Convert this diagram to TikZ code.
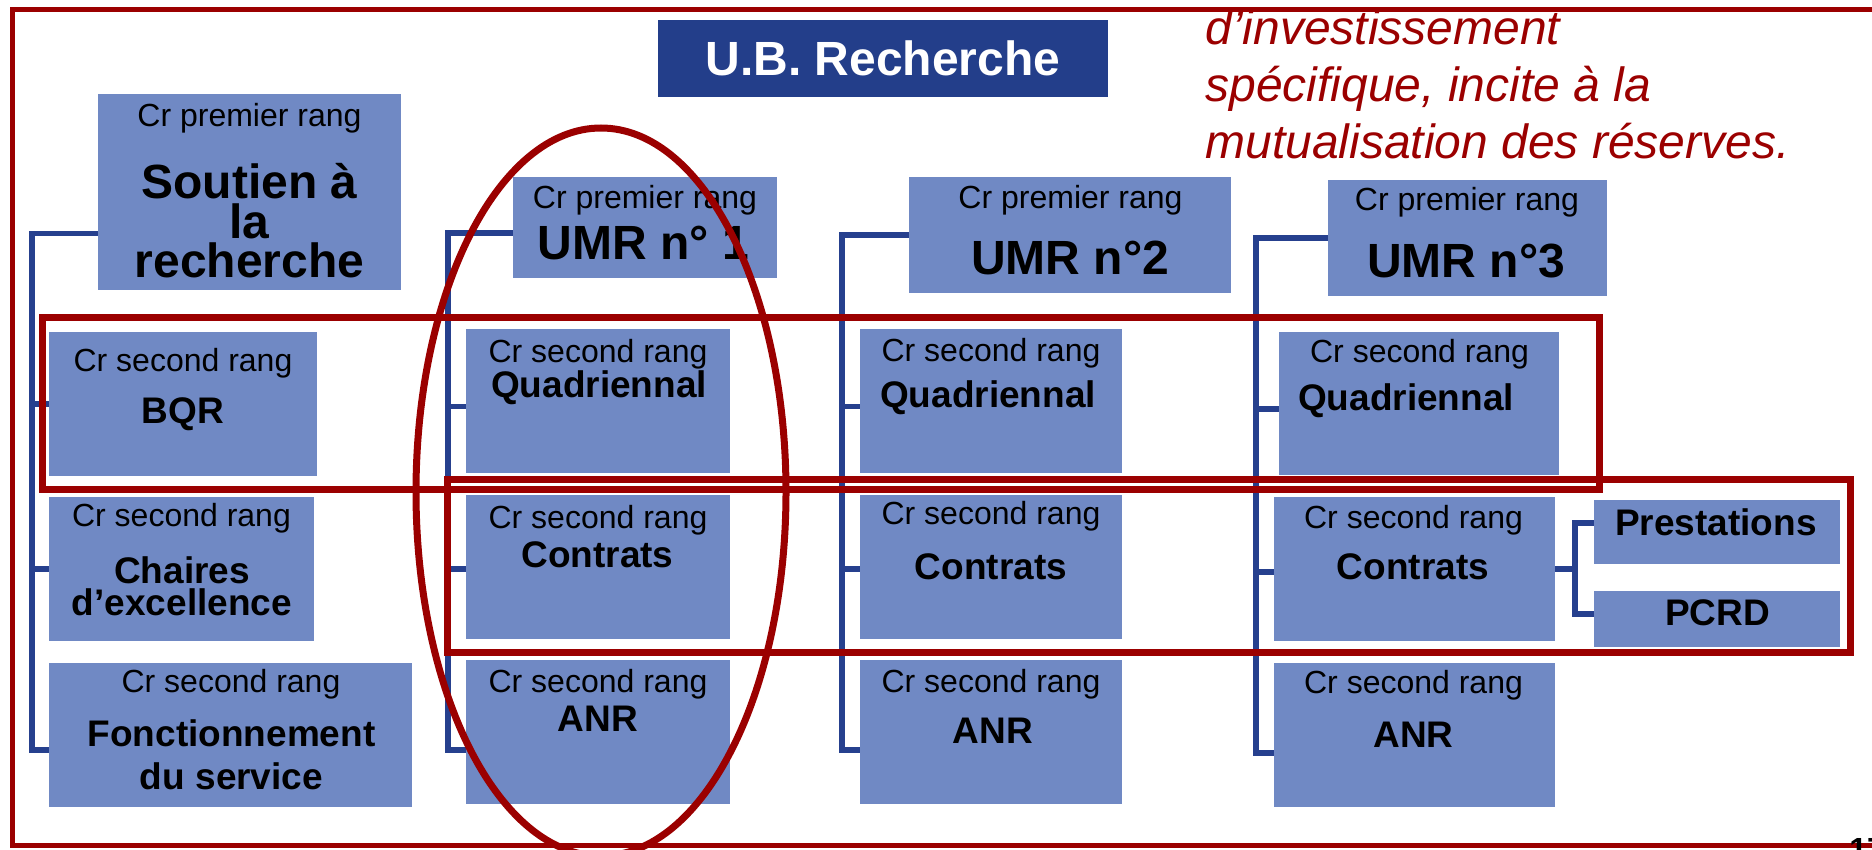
\documentclass[tikz,border=0pt]{standalone}
\usepackage{fontspec}
\setmainfont{Liberation Sans}
\definecolor{bleuclair}{RGB}{112,137,196}
\definecolor{bleufonce}{RGB}{35,62,138}
\definecolor{bleutrait}{RGB}{38,64,142}
\definecolor{rouge}{RGB}{155,0,0}
\begin{document}
\begin{tikzpicture}[x=0.5pt,y=-0.5pt,
		crbox/.style={fill=bleuclair,inner sep=0pt},
		petit/.style={font=\fontsize{16}{18}\selectfont,inner sep=0pt},
		gras/.style={font=\fontsize{18.5}{16}\selectfont\bfseries,align=center,inner sep=0pt},
		grand/.style={font=\fontsize{24}{19.75}\selectfont\bfseries,align=center,inner sep=0pt},
		lien/.style={draw=bleutrait,line width=2.75pt},
		cadre/.style={draw=rouge,line width=3.5pt}]
		\useasboundingbox (0,0) rectangle (1872,850);
		\clip (0,0) rectangle (1872,850);

		\node[crbox,fill=bleufonce,minimum width=225pt,minimum height=38.5pt,text=white,font=\fontsize{24}{28}\selectfont\bfseries] (ub) at (883,58.5) {U.B. Recherche};

		% soutien a la recherche
		\node[crbox,minimum width=151.5pt,minimum height=98pt] (soutien) at (249.5,192) {};
		\node[petit] (soutiena) at (249.5,118) {Cr premier rang};
		\node[grand] (soutienb) at (249.5,221) {Soutien à\\la\\recherche};
		\node[crbox,minimum width=134pt,minimum height=72pt] (bqr) at (183,404) {};
		\node[petit] (bqra) at (183,363) {Cr second rang};
		\node[gras] (bqrb) at (183,414.5) {BQR};
		\node[crbox,minimum width=132.5pt,minimum height=72pt] (chaires) at (181.5,569) {};
		\node[petit] (chairesa) at (181.5,518) {Cr second rang};
		\node[gras] (chairesb) at (182,586) {Chaires\\d’excellence};
		\node[crbox,minimum width=181.5pt,minimum height=72pt] (fonct) at (230.5,735) {};
		\node[petit] (foncta) at (231,684) {Cr second rang};
		\node[gras,font=\fontsize{18.5}{21.5}\selectfont\bfseries] (fonctb) at (231.5,754.5) {Fonctionnement\\du service};

		% UMR 1
		\node[crbox,minimum width=132pt,minimum height=50.5pt] (umra) at (645,227.5) {};
		\node[petit] (umraa) at (645,200) {Cr premier rang};
		\node[grand] (umrab) at (643.5,243) {UMR n° 1};
		\node[crbox,minimum width=132pt,minimum height=72pt] (quada) at (598,401) {};
		\node[petit] (quadaa) at (598,354.5) {Cr second rang};
		\node[gras] (quadab) at (599,388) {Quadriennal};
		\node[crbox,minimum width=132pt,minimum height=72pt] (contra) at (598,566.5) {};
		\node[petit] (contraa) at (598,520) {Cr second rang};
		\node[gras] (contrab) at (597.5,554.5) {Contrats};
		\node[crbox,minimum width=132pt,minimum height=72pt] (anra) at (598,732) {};
		\node[petit] (anraa) at (598,684) {Cr second rang};
		\node[gras] (anrab) at (598,719) {ANR};

		% UMR 2
		\node[crbox,minimum width=161pt,minimum height=58pt] (umrb) at (1070,235) {};
		\node[petit] (umrba) at (1070.5,200) {Cr premier rang};
		\node[grand] (umrbb) at (1070,258) {UMR n°2};
		\node[crbox,minimum width=131pt,minimum height=72pt] (quadb) at (991,401) {};
		\node[petit] (quadba) at (991,353) {Cr second rang};
		\node[gras] (quadbb) at (988,398) {Quadriennal};
		\node[crbox,minimum width=131pt,minimum height=72pt] (contrb) at (991,566.5) {};
		\node[petit] (contrba) at (991,516) {Cr second rang};
		\node[gras] (contrbb) at (991,567) {Contrats};
		\node[crbox,minimum width=131pt,minimum height=72pt] (anrb) at (991,732) {};
		\node[petit] (anrba) at (991,684) {Cr second rang};
		\node[gras] (anrbb) at (993,731) {ANR};

		% UMR 3
		\node[crbox,minimum width=139.5pt,minimum height=58pt] (umrc) at (1467.5,238) {};
		\node[petit] (umrca) at (1467,202) {Cr premier rang};
		\node[grand] (umrcb) at (1466,261) {UMR n°3};
		\node[crbox,minimum width=140pt,minimum height=71.5pt] (quadc) at (1419,403.5) {};
		\node[petit] (quadca) at (1419.5,354.5) {Cr second rang};
		\node[gras] (quadcb) at (1406,401) {Quadriennal};
		\node[crbox,minimum width=140.5pt,minimum height=72pt] (contrc) at (1414.5,569) {};
		\node[petit] (contrca) at (1413.5,520) {Cr second rang};
		\node[gras] (contrcb) at (1413,567) {Contrats};
		\node[crbox,minimum width=140.5pt,minimum height=72pt] (anrc) at (1414.5,735) {};
		\node[petit] (anrca) at (1413.5,685.5) {Cr second rang};
		\node[gras] (anrcb) at (1413.5,734.5) {ANR};
		\node[crbox,minimum width=123pt,minimum height=32pt] (prest) at (1717,532) {};
		\node[gras] (prestb) at (1716,522) {Prestations};
		\node[crbox,minimum width=123pt,minimum height=28pt] (pcrd) at (1717,619) {};
		\node[gras] (pcrdb) at (1717.5,613) {PCRD};

		% liens
		\coordinate (ta) at (32,750);
		\coordinate (tb) at (448,750);
		\coordinate (tc) at (842,750);
		\coordinate (td) at (1256,753);
		\coordinate (te) at (1575,569);
		\draw[lien] ([yshift=-20.75pt]soutien.west) -| (ta) -- (ta -| fonct.west);
		\draw[lien] (ta |- bqr.west) -- (bqr.west);
		\draw[lien] (ta |- chaires.west) -- (chaires.west);
		\draw[lien] ([yshift=-2.75pt]umra.west) -| (tb) -- (tb -| anra.west);
		\draw[lien] ([yshift=-2.75pt]tb |- quada.west) -- ([yshift=-2.75pt]quada.west);
		\draw[lien] ([yshift=-1.25pt]tb |- contra.west) -- ([yshift=-1.25pt]contra.west);
		\draw[lien] (umrb.west) -| (tc) -- (tc -| anrb.west);
		\draw[lien] ([yshift=-2.75pt]tc |- quadb.west) -- ([yshift=-2.75pt]quadb.west);
		\draw[lien] ([yshift=-1.25pt]tc |- contrb.west) -- ([yshift=-1.25pt]contrb.west);
		\draw[lien] (umrc.west) -| (td) -- (td -| anrc.west);
		\draw[lien] ([yshift=-2.75pt]td |- quadc.west) -- ([yshift=-2.75pt]quadc.west);
		\draw[lien] ([yshift=-1.5pt]td |- contrc.west) -- ([yshift=-1.5pt]contrc.west);
		\draw[lien] (contrc.east) -- (te);
		\draw[lien] ([yshift=4.5pt]prest.west) -| ([yshift=2.5pt]te |- pcrd.west) -- ([yshift=2.5pt]pcrd.west);

		% texte rouge
		\begin{scope}
			\clip (0,10) rectangle (1872,850);
			\node[anchor=west,align=left,inner sep=0pt,text=rouge,font=\fontsize{24}{28.5}\selectfont\itshape] (note) at (1205,84) {d'investissement\\spécifique, incite à la\\mutualisation des réserves.};
		\end{scope}

		% cadres rouges
		\draw[cadre] (42,317) rectangle (1599,489);
		\draw[cadre] (447,479) rectangle (1850,652);
		\draw[cadre] (601,492) ellipse [x radius=185,y radius=364];
		\draw[draw=rouge,line width=2.5pt] (12.5,9.5) rectangle (1900,845);
		\node[anchor=north west,inner sep=0pt,font=\fontsize{16}{18}\selectfont\bfseries] (page) at (1849,838) {17};
\end{tikzpicture}
\end{document}
